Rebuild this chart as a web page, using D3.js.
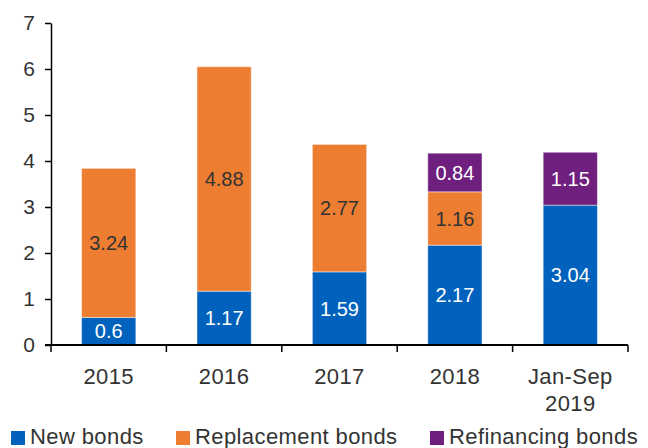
<!DOCTYPE html>
<html>
<head>
<meta charset="utf-8">
<script src="https://cdn.jsdelivr.net/npm/d3@7"></script>
<style>
  html, body { margin: 0; padding: 0; background: #fff; }
  svg { display: block; font-family: "Liberation Sans", Arial, Helvetica, sans-serif; }
</style>
</head>
<body>
<svg id="chart" width="648" height="448"></svg>
<script>
// Bond issuance by type (trillion)
const categories = ["2015", "2016", "2017", "2018", "Jan-Sep\n2019"];
const seriesNames = ["New bonds", "Replacement bonds", "Refinancing bonds"];
const newBonds = [0.6, 1.17, 1.59, 2.17, 3.04];
const replacementBonds = [3.24, 4.88, 2.77, 1.16, 0];
const refinancingBonds = [0, 0, 0, 0.84, 1.15];
const yTicks = [0, 1, 2, 3, 4, 5, 6, 7];

const colors = ["#0062BC", "#ED7D31", "#6F1F7D"];
const labelColors = ["#ffffff", "#333333", "#ffffff"];

const rows = categories.map((c, i) => ({
  cat: c,
  "New bonds": newBonds[i],
  "Replacement bonds": replacementBonds[i],
  "Refinancing bonds": refinancingBonds[i]
}));

const stacked = d3.stack().keys(seriesNames)(rows);

const svg = d3.select("#chart");
const x0 = 51, x1 = 628, yTop = 23, yBottom = 345;

const x = d3.scaleBand().domain(categories).range([x0, x1]).paddingInner(0.53).paddingOuter(0.265);
const y = d3.scaleLinear().domain([0, 7]).range([yBottom, yTop]);

// bars
const layers = svg.append("g").selectAll("g").data(stacked).join("g")
  .attr("fill", (d, i) => colors[i]);

layers.selectAll("rect").data(d => d.filter(s => s[1] - s[0] > 0)).join("rect")
  .attr("x", d => x(d.data.cat))
  .attr("width", x.bandwidth())
  .attr("y", d => y(d[1]))
  .attr("height", d => y(d[0]) - y(d[1]))
  .attr("stroke", "rgba(255,255,255,0.45)")
  .attr("stroke-width", 1);

// value labels
stacked.forEach((layer, i) => {
  svg.append("g").selectAll("text").data(layer.filter(s => s[1] - s[0] > 0)).join("text")
    .attr("x", d => x(d.data.cat) + x.bandwidth() / 2)
    .attr("y", d => (y(d[0]) + y(d[1])) / 2)
    .attr("dy", "0.36em")
    .attr("text-anchor", "middle")
    .attr("font-size", 20)
    .attr("fill", labelColors[i])
    .text(d => d3.format("~g")(+(d[1] - d[0]).toFixed(2)));
});

// y axis
const yAxis = svg.append("g")
  .attr("transform", `translate(${x0},0)`)
  .call(d3.axisLeft(y).tickValues(yTicks).tickFormat(d3.format("d"))
    .tickSize(6).tickPadding(10).tickSizeOuter(0));
yAxis.select(".domain").attr("stroke", "#000").attr("stroke-width", 1.5);
yAxis.selectAll(".tick line").attr("stroke", "#000").attr("stroke-width", 1.5);
yAxis.selectAll(".tick text").attr("font-size", 21).attr("fill", "#333").attr("font-family", null);

// x axis: baseline with ticks at category boundaries
const xAxis = svg.append("g").attr("transform", `translate(0,${yBottom})`);
xAxis.append("line")
  .attr("x1", x0 - 6).attr("x2", x1)
  .attr("stroke", "#000").attr("stroke-width", 2);
const bounds = d3.range(categories.length + 1).map(i => x0 + i * x.step());
xAxis.selectAll("line.b").data(bounds).join("line")
  .attr("class", "b")
  .attr("x1", d => d).attr("x2", d => d)
  .attr("y1", 0).attr("y2", 7)
  .attr("stroke", "#000").attr("stroke-width", 1.5);

const xl = xAxis.selectAll("text").data(categories).join("text")
  .attr("x", d => x(d) + x.bandwidth() / 2)
  .attr("text-anchor", "middle")
  .attr("font-size", 22)
  .attr("letter-spacing", 0.4)
  .attr("fill", "#333");
xl.each(function (d) {
  const lines = d.split("\n");
  d3.select(this).selectAll("tspan").data(lines).join("tspan")
    .attr("x", x(d) + x.bandwidth() / 2)
    .attr("y", (l, j) => 39 + j * 27)
    .text(l => l);
});

// legend
const legendX = [11, 176, 430];
const legend = svg.append("g").selectAll("g").data(seriesNames).join("g")
  .attr("transform", (d, i) => `translate(${legendX[i]},431)`);
legend.append("rect").attr("width", 14).attr("height", 14).attr("fill", (d, i) => colors[i]);
legend.append("text")
  .attr("x", 19).attr("y", 13)
  .attr("font-size", 22)
  .attr("letter-spacing", 0.4)
  .attr("fill", "#333")
  .text(d => d);
</script>
</body>
</html>
